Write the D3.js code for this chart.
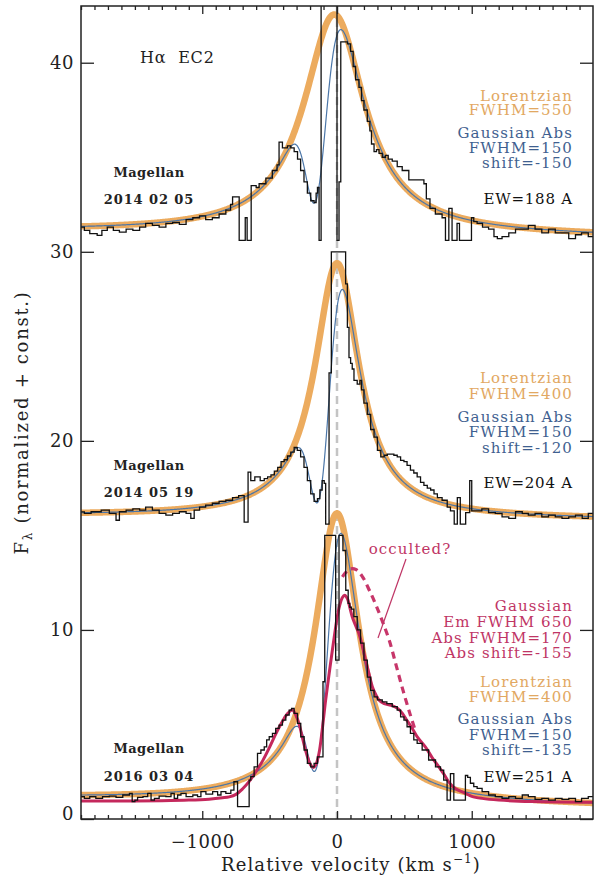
<!DOCTYPE html>
<html><head><meta charset="utf-8">
<script src="https://cdn.jsdelivr.net/npm/d3@7"></script>
<style>
body{margin:0;background:#fff}
svg{display:block;background:#fff}
text{font-family:"DejaVu Serif",serif}
</style>
</head><body>
<svg id="chart" width="594" height="878"></svg>
<script>
// ---------------- DATA ----------------
const xDomain = [-1900, 1900];
const yDomain = [0, 43];
const xMajorTicks = [-1000, 0, 1000];
const xMinorTicks = [-1900,-1800,-1700,-1600,-1500,-1400,-1300,-1200,-1100,-900,-800,-700,-600,-500,-400,-300,-200,-100,100,200,300,400,500,600,700,800,900,1100,1200,1300,1400,1500,1600,1700,1800];
const yTicks = [0, 10, 20, 30, 40];

// observed spectra: [velocity where step starts, flux]
const specTop = [[-1900,31.3],[-1875,31.13],[-1835,30.96],[-1780,30.87],[-1745,31.13],[-1705,31.3],[-1660,31.13],[-1615,31.04],[-1565,31.2],[-1515,31.13],[-1465,31.3],[-1420,31.5],[-1370,31.4],[-1320,31.3],[-1270,31.5],[-1220,31.55],[-1170,31.45],[-1120,31.7],[-1070,31.8],[-1020,31.9],[-975,31.7],[-925,31.8],[-875,32.0],[-825,32.2],[-790,32.5],[-775,32.9],[-726,30.6],[-681,31.8],[-667,30.6],[-637,33.5],[-600,33.4],[-578,33.6],[-528,33.9],[-480,34.3],[-445,34.6],[-430,35.8],[-405,35.5],[-368,35.6],[-343,35.5],[-318,35.3],[-293,34.9],[-270,34.3],[-245,33.7],[-220,33.1],[-195,32.7],[-170,32.6],[-155,33.1],[-145,33.4],[-133,30.6],[-118,50],[0,30.6],[15,33.7],[28,41.1],[77,41.0],[101,40.6],[120,39.8],[138,39.1],[163,38.7],[182,38.0],[200,37.5],[225,36.9],[244,36.4],[256,35.7],[275,35.3],[293,35.4],[312,35.2],[336,35.0],[360,35.1],[380,34.9],[410,34.8],[447,34.5],[484,34.3],[533,33.8],[645,33.6],[663,32.8],[690,32.3],[730,32.0],[780,31.8],[805,30.6],[830,32.3],[854,30.6],[891,31.5],[909,30.6],[998,31.8],[1015,31.6],[1040,31.5],[1080,31.3],[1125,31.2],[1165,30.8],[1190,30.7],[1225,30.8],[1275,31.0],[1325,31.2],[1375,31.2],[1420,31.4],[1470,31.2],[1520,31.0],[1570,31.2],[1620,31.0],[1670,31.0],[1720,30.7],[1770,30.9],[1815,31.0],[1865,30.8]];

const specMid = [[-1900,16.24],[-1875,16.16],[-1825,16.25],[-1750,16.34],[-1690,16.16],[-1640,15.8],[-1615,16.25],[-1565,16.34],[-1515,16.4],[-1465,16.34],[-1420,16.5],[-1370,16.34],[-1320,16.16],[-1270,16.07],[-1220,16.16],[-1170,16.25],[-1120,16.16],[-1085,15.9],[-1060,16.34],[-1020,16.5],[-975,16.6],[-925,16.7],[-875,16.8],[-825,16.86],[-775,17.0],[-730,17.1],[-689,15.7],[-660,18.35],[-640,17.9],[-610,18.1],[-570,17.9],[-540,18.0],[-515,18.1],[-490,18.2],[-465,18.4],[-440,18.6],[-415,18.9],[-392,19.0],[-368,19.2],[-343,19.4],[-318,19.65],[-295,19.5],[-270,19.15],[-245,18.6],[-220,17.9],[-195,17.2],[-170,16.8],[-145,16.95],[-127,17.4],[-110,17.9],[-95,17.75],[-84,15.6],[-59,23.6],[-42,30.0],[64,28.3],[77,26.0],[89,24.4],[101,24.1],[113,23.8],[126,23.2],[150,23.0],[170,23.2],[182,22.7],[200,22.0],[225,21.4],[250,20.6],[275,20.2],[300,19.5],[325,19.15],[350,19.24],[373,19.3],[398,19.3],[422,19.24],[447,19.15],[472,18.97],[497,18.9],[520,18.7],[545,18.45],[570,18.3],[595,18.1],[620,17.8],[645,17.65],[670,17.5],[695,17.4],[720,17.2],[745,17.0],[780,16.86],[818,16.5],[842,16.3],[870,15.6],[893,17.0],[915,15.6],[955,16.2],[985,17.9],[1000,16.3],[1030,16.3],[1075,16.4],[1125,16.2],[1175,16.16],[1225,15.98],[1275,15.9],[1325,16.25],[1375,16.16],[1420,16.07],[1470,16.16],[1520,15.98],[1570,16.07],[1620,15.98],[1670,15.9],[1720,15.98],[1770,16.07],[1820,15.9],[1865,16.16]];

const specBot = [[-1900,1.18],[-1875,1.09],[-1835,1.18],[-1790,1.09],[-1740,1.18],[-1690,1.21],[-1640,1.14],[-1590,1.27],[-1540,1.36],[-1520,0.92],[-1500,1.0],[-1480,1.14],[-1440,1.18],[-1405,1.36],[-1380,1.0],[-1355,1.09],[-1320,1.21],[-1270,1.18],[-1232,1.36],[-1208,1.09],[-1183,1.27],[-1158,1.36],[-1120,1.18],[-1070,1.27],[-1035,1.18],[-1010,1.45],[-973,1.32],[-923,1.45],[-886,1.27],[-861,1.45],[-825,1.36],[-788,1.53],[-765,1.97],[-738,0.65],[-652,2.06],[-640,2.24],[-615,2.76],[-590,3.47],[-565,3.65],[-540,3.82],[-522,4.18],[-503,4.35],[-479,4.53],[-455,4.79],[-430,4.97],[-405,5.23],[-380,5.5],[-355,5.76],[-337,5.85],[-318,5.59],[-293,5.06],[-269,4.35],[-244,3.65],[-220,2.94],[-195,2.76],[-170,2.94],[-145,3.29],[-104,7.26],[-91,15.0],[-10,8.4],[15,15.0],[44,14.2],[65,12.1],[83,11.4],[95,11.2],[107,11.1],[125,10.7],[150,10.0],[175,9.3],[200,8.4],[225,7.5],[250,6.8],[275,6.46],[300,6.3],[336,6.2],[370,6.1],[410,5.94],[447,5.76],[472,5.4],[497,5.23],[520,4.88],[545,4.53],[570,4.18],[595,4.0],[632,3.65],[680,3.12],[731,2.76],[768,2.59],[792,2.06],[817,1.0],[842,2.4],[867,1.0],[953,2.3],[970,2.2],[990,1.89],[1015,1.71],[1040,1.62],[1077,1.45],[1125,1.27],[1175,1.18],[1225,1.09],[1275,1.18],[1325,1.09],[1375,1.27],[1420,1.18],[1470,1.04],[1520,1.09],[1570,1.0],[1620,1.09],[1670,1.04],[1720,1.09],[1770,0.92],[1815,1.09],[1865,1.18]];

// fitted model parameters (read from figure labels / picture)
// [continuum at -1900, continuum at +1900, Lorentz amplitude, Lorentz centre, Lorentz FWHM]
const lorTop = [31.1, 30.8, 11.6, -20, 550];
const lorMid = [16.05, 15.85, 13.45, 0, 400];
const lorBot = [1.1, 0.68, 15.28, 0, 400];
// Gaussian absorption: [depth, shift, FWHM]
const absTop = [7.6, -150, 150];
const absMid = [8.5, -120, 150];
const absBot = [8.1, -135, 150];

// Gaussian (red) fit in bottom panel: [velocity, flux]
const gaussFitBot = [[-1900,0.95],[-1600,0.95],[-1300,0.97],[-1100,1.0],[-950,1.05],[-850,1.12],[-800,1.17],[-750,1.3],[-700,1.6],[-650,2.0],[-602,2.5],[-550,3.1],[-500,3.8],[-454,4.5],[-410,5.1],[-370,5.55],[-331,5.76],[-306,5.5],[-280,5.0],[-257,4.3],[-220,3.3],[-195,2.85],[-175,2.72],[-158,2.85],[-133,3.5],[-110,4.7],[-84,6.3],[-60,7.6],[-35,8.9],[-15,9.9],[2,10.7],[20,11.3],[39,11.7],[57,11.84],[77,11.66],[95,11.2],[113,10.7],[140,10.2],[163,9.8],[190,9.1],[212,8.4],[237,7.7],[262,7.0],[290,6.55],[311,6.3],[350,6.1],[410,6.0],[450,5.85],[484,5.6],[520,5.2],[558,4.8],[600,4.3],[657,3.8],[706,3.25],[756,2.76],[800,2.3],[830,1.95],[880,1.6],[953,1.36],[1000,1.2],[1077,1.09],[1200,1.0],[1447,0.92],[1900,0.88]];
// dashed "occulted?" curve
const occultedBot = [[40,12.8],[90,13.2],[140,13.2],[190,12.8],[240,12.1],[290,11.3],[340,10.4],[390,9.4],[440,8.1],[490,6.8],[540,5.6],[580,4.7]];

// text
const titleText = "Hα  EC2";
const telescope = ["Magellan","Magellan","Magellan"];
const dates = ["2014 02 05","2014 05 19","2016 03 04"];
const ewLabels = ["EW=188 A","EW=204 A","EW=251 A"];
const lorLabels = [["Lorentzian","FWHM=550"],["Lorentzian","FWHM=400"],["Lorentzian","FWHM=400"]];
const absLabels = [["Gaussian Abs","FWHM=150","shift=-150"],["Gaussian Abs","FWHM=150","shift=-120"],["Gaussian Abs","FWHM=150","shift=-135"]];
const gaussLabels = ["Gaussian","Em FWHM 650","Abs FWHM=170","Abs shift=-155"];
const occultLabel = "occulted?";

// ---------------- DRAW ----------------
const L = 81, R = 593, T = 6, B = 819;
const svg = d3.select("#chart");
const x = d3.scaleLinear().domain(xDomain).range([L, R]);
const y = d3.scaleLinear().domain(yDomain).range([B, T]);

const cOrange = "#ecab5e", cBlue = "#4b76a8", cRed = "#c4285c";
const tOrange = "#e2a862", tBlue = "#3f5f90", tRed = "#bf3565";

svg.append("defs").append("clipPath").attr("id","clip")
  .append("rect").attr("x",L).attr("y",T).attr("width",R-L).attr("height",B-T);
const plot = svg.append("g").attr("clip-path","url(#clip)");

// zero-velocity dashed line
plot.append("line").attr("x1",x(0)).attr("x2",x(0)).attr("y1",y(yDomain[1])).attr("y2",y(yDomain[0]))
  .attr("stroke","#c4c4c4").attr("stroke-width",2.5).attr("stroke-dasharray","8,5");

const vgrid = d3.range(xDomain[0], xDomain[1]+0.1, 4);
function lorModel(p, v){
  const c = p[0] + (p[1]-p[0])*(v - xDomain[0])/(xDomain[1]-xDomain[0]);
  const g = p[4]/2;
  return c + p[2]/(1+((v-p[3])/g)**2);
}
function absModel(a, v){
  const s = a[2]/2;
  return a[0]*Math.exp(-((v-a[1])**2)/(2*s*s));
}
const line = d3.line().x(d=>x(d[0])).y(d=>y(d[1]));
const smooth = d3.line().x(d=>x(d[0])).y(d=>y(d[1])).curve(d3.curveCatmullRom.alpha(0.5));
const step = d3.line().x(d=>x(d[0])).y(d=>y(d[1])).curve(d3.curveStepAfter);

const panels = [
  {spec:specTop, lor:lorTop, abs:absTop},
  {spec:specMid, lor:lorMid, abs:absMid},
  {spec:specBot, lor:lorBot, abs:absBot}
];

panels.forEach(p=>{
  plot.append("path").attr("d", line(vgrid.map(v=>[v, lorModel(p.lor,v)])))
    .attr("fill","none").attr("stroke",cOrange).attr("stroke-width",6.5).attr("stroke-linejoin","round");
});
panels.forEach(p=>{
  plot.append("path").attr("d", line(vgrid.map(v=>[v, lorModel(p.lor,v)-absModel(p.abs,v)])))
    .attr("fill","none").attr("stroke",cBlue).attr("stroke-width",1.2);
});
// red gaussian fit (bottom)
plot.append("path").attr("d", smooth(gaussFitBot))
  .attr("fill","none").attr("stroke",cRed).attr("stroke-width",3);
plot.append("path").attr("d", smooth(occultedBot))
  .attr("fill","none").attr("stroke","#c7366a").attr("stroke-width",3.2).attr("stroke-dasharray","7,5");

// spectra
panels.forEach(p=>{
  const pts = p.spec.concat([[xDomain[1], p.spec[p.spec.length-1][1]]]);
  plot.append("path").attr("d", step(pts))
    .attr("fill","none").attr("stroke","#111").attr("stroke-width",1.3);
});

// frame
svg.append("rect").attr("x",L).attr("y",T).attr("width",R-L).attr("height",B-T)
  .attr("fill","none").attr("stroke","#222").attr("stroke-width",1.5);

function styleAxis(g){
  g.select(".domain").remove();
  g.selectAll(".tick line").attr("stroke","#222").attr("stroke-width",1.3);
  g.selectAll("text").attr("font-family","DejaVu Serif").attr("font-size",18).attr("fill","#222").attr("letter-spacing","0.6px");
}
// left
const gl = svg.append("g").attr("transform",`translate(${L},0)`)
  .call(d3.axisLeft(y).tickValues(yTicks).tickSizeInner(-13).tickSizeOuter(0).tickPadding(7).tickFormat(d3.format("d")));
styleAxis(gl);
gl.selectAll(".tick").filter(d=>d===0).select("text").attr("dy","0.0em");
// right
const gr = svg.append("g").attr("transform",`translate(${R},0)`)
  .call(d3.axisRight(y).tickValues(yTicks).tickSizeInner(-13).tickSizeOuter(0).tickFormat(""));
styleAxis(gr);
// bottom
const gb = svg.append("g").attr("transform",`translate(0,${B})`)
  .call(d3.axisBottom(x).tickValues(xMajorTicks).tickSizeInner(-8).tickSizeOuter(0).tickPadding(16).tickFormat(d3.format("d")));
styleAxis(gb);
const gbm = svg.append("g").attr("transform",`translate(0,${B})`)
  .call(d3.axisBottom(x).tickValues(xMinorTicks).tickSizeInner(-4).tickSizeOuter(0).tickFormat(""));
styleAxis(gbm);
// top
const gt = svg.append("g").attr("transform",`translate(0,${T})`)
  .call(d3.axisTop(x).tickValues(xMajorTicks).tickSizeInner(-8).tickSizeOuter(0).tickFormat(""));
styleAxis(gt);
const gtm = svg.append("g").attr("transform",`translate(0,${T})`)
  .call(d3.axisTop(x).tickValues(xMinorTicks).tickSizeInner(-4).tickSizeOuter(0).tickFormat(""));
styleAxis(gtm);

// axis titles
const xt = svg.append("text").attr("x",(L+R)/2+14).attr("y",871).attr("text-anchor","middle")
  .attr("font-size",18).attr("fill","#222").attr("letter-spacing","1.1px");
xt.append("tspan").text("Relative velocity (km s");
xt.append("tspan").attr("font-size",12).attr("dy",-8).text("−1");
xt.append("tspan").attr("dy",8).text(")");

const yt = svg.append("text").attr("transform",`translate(28,${(T+B)/2+10}) rotate(-90)`).attr("text-anchor","middle")
  .attr("font-size",18).attr("fill","#222").attr("letter-spacing","1.7px");
yt.append("tspan").text("F");
yt.append("tspan").attr("font-size",12).attr("dy",4).text("λ");
yt.append("tspan").attr("dy",-4).text(" (normalized + const.)");

// annotations
function note(txt, xx, yy, color, opts={}){
  svg.append("text").attr("x",xx).attr("y",yy)
    .attr("text-anchor",opts.anchor||"end")
    .attr("font-size",opts.size||15)
    .attr("font-weight",opts.weight||"normal")
    .attr("letter-spacing",(opts.ls!==undefined?opts.ls:1.1)+"px")
    .attr("fill",color).style("white-space","pre").text(txt);
}
// multi-line block: one text element, one tspan per line
function block(lines, xx, ys, color){
  const t = svg.append("text").attr("text-anchor","end").attr("font-size",15)
    .attr("letter-spacing","1.1px").attr("fill",color);
  lines.forEach((s,j)=>{
    t.append("tspan").attr("x",xx).attr("y",ys[j]).text(s);
  });
}
note(titleText, 140, 63, "#222", {anchor:"start", size:16, ls:0.8});

const rx = 573;
const magY = [[177,204],[470,497],[753,781]];
telescope.forEach((t,i)=>{
  note(t, 149, magY[i][0], "#222", {anchor:"middle", size:13, weight:"bold", ls:0.4});
  note(dates[i], 149, magY[i][1], "#222", {anchor:"middle", size:13, weight:"bold", ls:0.9});
});
const lorY = [[101,115],[383,399],[687,702]];
const absY = [[138,153,168],[422,437,453],[724,740,755]];
const ewY = [204,488,782];
lorLabels.forEach((ls,i)=> block(ls, rx, lorY[i], tOrange));
absLabels.forEach((ls,i)=> block(ls, rx, absY[i], tBlue));
ewLabels.forEach((t,i)=> note(t, rx, ewY[i], "#111", {size:15, ls:0.8}));
block(gaussLabels, rx, [611,627,643,658], tRed);
note(occultLabel, 410, 554, tRed, {anchor:"middle"});
svg.append("line").attr("x1",406).attr("y1",559).attr("x2",378).attr("y2",638)
  .attr("stroke",tRed).attr("stroke-width",1.2);
</script>
</body></html>
